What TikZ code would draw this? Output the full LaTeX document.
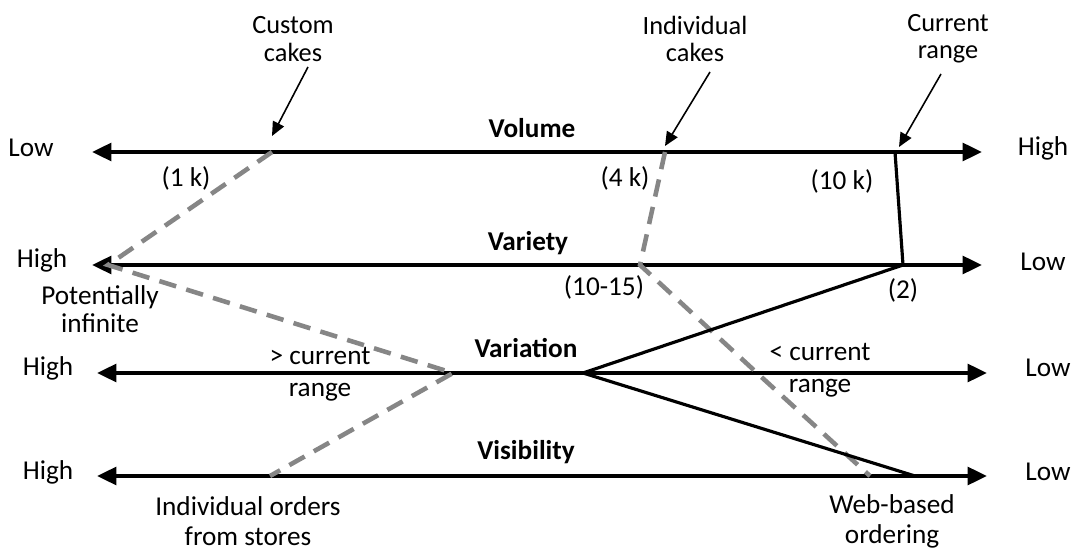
\documentclass[tikz,border=0pt]{standalone}
\usepackage{fontspec}
\setmainfont{Carlito}
\usetikzlibrary{arrows.meta}

\begin{document}
\begin{tikzpicture}
        [x=0.02cm, y=-0.02cm,
         every node/.style={font=\fontsize{15.5}{17}\selectfont, inner sep=0, align=center},
         axis/.style={line width=2.2pt, black, {Triangle[length=11pt,width=10pt]}-{Triangle[length=11pt,width=10pt]}},
         callout/.style={line width=0.9pt, black, -{Triangle[length=8pt,width=7pt]}},
         current/.style={line width=1.8pt, black},
         option/.style={line width=2.6pt, gray!95, dash pattern=on 10pt off 6pt},
         title/.style={font=\fontsize{15.5}{17}\selectfont\bfseries}]

        \useasboundingbox (0,0) rectangle (1074,553);

        % axes
        \coordinate (volL) at (92, 152);   \coordinate (volR) at (982, 152);
        \coordinate (varL) at (92, 265);   \coordinate (varR) at (982, 265);
        \coordinate (vrnL) at (97, 373);   \coordinate (vrnR) at (987, 373);
        \coordinate (visL) at (97, 476);   \coordinate (visR) at (987, 476);

        \draw[axis] (volL) -- (volR);
        \draw[axis] (varL) -- (varR);
        \draw[axis] (vrnL) -- (vrnR);
        \draw[axis] (visL) -- (visR);

        \node[title] (tVol) at (532, 128) {Volume};
        \node[title] (tVar) at (528, 243) {Variety};
        \node[title] (tVrn) at (526, 348) {Variation};
        \node[title] (tVis) at (526, 452) {Visibility};

        \node (volLo) at (31, 148) {Low};
        \node (volHi) at (1043, 148) {High};
        \node (varHi) at (42, 260) {High};
        \node (varLo) at (1043, 262) {Low};
        \node (vrnHi) at (48, 368) {High};
        \node (vrnLo) at (1048, 368) {Low};
        \node (visHi) at (48, 472) {High};
        \node (visLo) at (1048, 472) {Low};

        % points on the axes
        \coordinate (cVol) at (272, 152);
        \coordinate (cVar) at (108, 265);
        \coordinate (cVrn) at (453, 373);
        \coordinate (cVis) at (270, 476);

        \coordinate (iVol) at (665, 152);
        \coordinate (iVar) at (640, 265);
        \coordinate (iVrn) at (757, 373);
        \coordinate (iVis) at (870, 476);

        \coordinate (rVol) at (895, 152);
        \coordinate (rVar) at (903, 265);
        \coordinate (rVrn) at (583, 373);
        \coordinate (rVis) at (915, 476);

        \draw[option] (cVol) -- (cVar) -- (cVrn) -- (cVis);
        \draw[option] (iVol) -- (iVar) -- (iVrn) -- (iVis);
        \draw[current] (rVol) -- (rVar) -- (rVrn) -- (rVis);

        % call-outs
        \node[font=\fontsize{15}{15.5}\selectfont] (lCustom) at (293, 39) {Custom\\cakes};
        \node[font=\fontsize{15}{15.5}\selectfont] (lIndiv) at (695, 39) {Individual\\cakes};
        \node[font=\fontsize{15}{15.5}\selectfont] (lRange) at (948, 39) {Current\\range};

        \coordinate (aCustom) at (308, 67);  \coordinate (hCustom) at (272, 136);
        \coordinate (aIndiv) at (710, 72);   \coordinate (hIndiv) at (665, 146);
        \coordinate (aRange) at (941, 74);   \coordinate (hRange) at (899, 147);

        \draw[callout] (aCustom) -- (hCustom);
        \draw[callout] (aIndiv) -- (hIndiv);
        \draw[callout] (aRange) -- (hRange);

        % values
        \node (n1k) at (186, 178) {(1 k)};
        \node (n4k) at (625, 178) {(4 k)};
        \node (n10k) at (842, 181) {(10 k)};
        \node (n1015) at (604, 287) {(10-15)};
        \node (n2) at (903, 290) {(2)};
        \node[font=\fontsize{15.5}{16}\selectfont] (nInf) at (100, 309) {Potentially\\infinite};
        \node[font=\fontsize{15.5}{18}\selectfont] (nMore) at (320, 374) {> current\\range};
        \node[font=\fontsize{15.5}{18}\selectfont] (nLess) at (820, 370) {< current\\range};
        \node[font=\fontsize{15.5}{17}\selectfont] (nStores) at (248, 521) {Individual orders\\from stores};
        \node[font=\fontsize{15.5}{17}\selectfont] (nWeb) at (892, 521) {Web-based\\ordering};
      \end{tikzpicture}
\end{document}
